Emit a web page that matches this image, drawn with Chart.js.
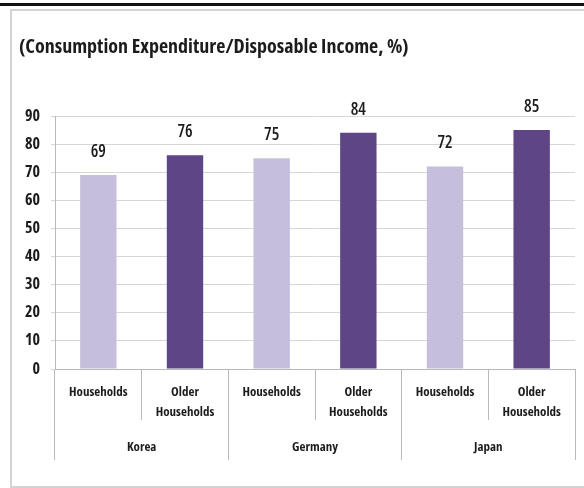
<!DOCTYPE html>
<html>
<head>
<meta charset="utf-8">
<script src="https://cdn.jsdelivr.net/npm/chart.js@4.4.1/dist/chart.umd.min.js"></script>
<style>
    html, body { margin: 0; padding: 0; background: #fff; overflow: hidden; }
    #wrap { position: relative; width: 584px; height: 488px; }
    #topbar { position: absolute; left: 0; top: 3px; width: 584px; height: 3px; background: #111; }
    #frame { position: absolute; left: 10px; top: 9px; width: 600px; height: 475px; border: 2px solid #d3d3d3; }
    #cv { position: absolute; left: 0; top: 0; }
</style>
</head>
<body>
<div id="wrap">
    <div id="topbar"></div>
    <div id="frame"></div>
    <canvas id="cv" width="584" height="488"></canvas>
</div>
<script>
const groups = ["Korea", "Germany", "Japan"];
const categories = [
    ["Households"], ["Older", "Households"],
    ["Households"], ["Older", "Households"],
    ["Households"], ["Older", "Households"]
];
const values = [69, 76, 75, 84, 72, 85];
const yTicks = [0, 10, 20, 30, 40, 50, 60, 70, 80, 90];

const LIGHT = "#c6bfdc";
const DARK = "#5e4585";
const FONT = "'Open Sans', 'Roboto Condensed', sans-serif";
const TEXT = "#1c1c1c";

// value labels above each bar
const barLabels = {
    id: "barLabels",
    afterDatasetsDraw(chart) {
        const ctx = chart.ctx;
        const meta = chart.getDatasetMeta(0);
        ctx.save();
        ctx.font = "600 condensed 17px " + FONT;
        ctx.fillStyle = TEXT;
        ctx.textAlign = "center";
        ctx.textBaseline = "middle";
        meta.data.forEach((bar, i) => {
            ctx.fillText(values[i], bar.x, bar.y - 23);
        });
        ctx.restore();
    }
};

new Chart(document.getElementById("cv"), {
    type: "bar",
    data: {
        labels: categories,
        datasets: [{
            data: values,
            backgroundColor: values.map((v, i) => i % 2 ? DARK : LIGHT),
            barPercentage: 0.42,
            categoryPercentage: 1
        }]
    },
    options: {
        responsive: false,
        animation: false,
        layout: { padding: { left: 19, right: 9, top: 0, bottom: 28 } },
        plugins: {
            legend: { display: false },
            tooltip: { enabled: false },
            title: {
                display: true,
                text: "(Consumption Expenditure/Disposable Income, %)",
                align: "start",
                color: TEXT,
                font: { family: FONT, size: 20, weight: "bold condensed" },
                padding: { top: 35, bottom: 57 }
            }
        },
        scales: {
            y: {
                min: 0,
                max: 90,
                afterBuildTicks: s => { s.ticks = yTicks.map(v => ({ value: v })); },
                afterFit: s => { s.width = 36; },
                grid: { color: "#d6d6d6", tickLength: 4 },
                border: { color: "#b8b8b8" },
                ticks: { color: TEXT, padding: 11, font: { family: FONT, size: 16, weight: "bold condensed" } }
            },
            x: {
                afterFit: s => { s.height = 51; },
                grid: { offset: true, drawOnChartArea: false, tickLength: 51, color: "#b8b8b8" },
                border: { color: "#b8b8b8" },
                ticks: { color: TEXT, padding: -37, maxRotation: 0, font: { family: FONT, size: 13, weight: "bold condensed", lineHeight: 1.5 } }
            },
            x2: {
                type: "category",
                labels: groups,
                position: "bottom",
                afterFit: s => { s.height = 40; },
                grid: { offset: true, drawOnChartArea: false, tickLength: 40, color: "#b8b8b8" },
                border: { display: false },
                ticks: { color: TEXT, padding: -21, maxRotation: 0, font: { family: FONT, size: 13, weight: "bold condensed" } }
            }
        }
    },
    plugins: [barLabels]
});
</script>
</body>
</html>
